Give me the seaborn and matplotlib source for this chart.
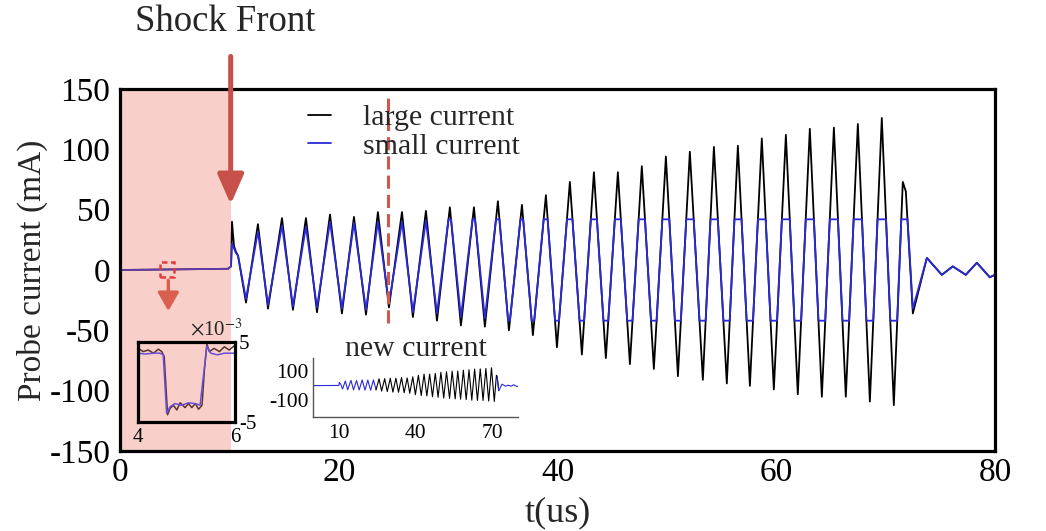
import numpy as np
import pandas as pd
import matplotlib
matplotlib.use("Agg")
import matplotlib.pyplot as plt
import seaborn as sns
from matplotlib.patches import Rectangle

# ---------------- data ----------------
# vertex times (us) of the probe-current waveform
t_us = [0.0, 9.87, 10.15, 10.24, 10.42, 10.60, 10.79, 11.52,
        12.61, 13.53, 14.81, 15.81, 17.00, 18.01, 19.20, 20.29, 21.39, 22.49,
        23.58, 24.59, 25.78, 26.78, 27.97, 28.98, 30.16, 31.17, 32.36, 33.36,
        34.55, 35.56, 36.75, 37.75, 38.94, 39.95, 41.13, 42.23, 43.33, 44.42,
        45.52, 46.62, 47.71, 48.81, 49.91, 51.01, 52.10, 53.29, 54.30, 55.48,
        56.49, 57.59, 58.68, 59.78, 60.88, 61.97, 63.07, 64.17, 65.27, 66.36,
        67.46, 68.56, 69.65, 70.75,
        71.57, 71.85, 72.49, 73.77, 75.14, 76.14, 77.33, 78.34, 79.52, 80.0]
# large current (mA) at those vertices
large_mA = [0, 1, 3, 40, 20, 15, 12, -27,
            38, -32, 43, -33, 43, -35, 46, -36, 44, -37, 48, -31, 48, -39,
            49, -42, 52, -46, 52, -47, 57, -50, 54, -54, 62, -64, 73, -70,
            81, -73, 81, -78, 86, -82, 94, -88, 98, -91, 102, -94, 103, -96,
            109, -99, 112, -103, 117, -105, 118, -105, 121, -109, 126, -112,
            73, 65, -36, 10, -4, 3, -4, 6, -6, -4]
# small current (mA) at the same vertices, before the +-42 mA saturation
small_mA = [0, 1, 3, 22, 18, 14, 12, -24,
            32, -29, 37, -30, 36, -31, 40, -32, 39, -33, 40, -28, 40, -35,
            41, -36, 52, -39, 52, -40, 57, -50, 54, -54, 62, -64, 73, -70,
            81, -73, 81, -78, 86, -82, 94, -88, 98, -91, 102, -94, 103, -96,
            109, -99, 112, -103, 117, -105, 118, -105, 121, -109, 126, -112,
            73, 65, -32, 10, -4, 3, -4, 6, -6, -4]
small_sat_mA = 42

# zoomed pre-shock signal (x1e-3 mA), t = 4..6 us
t_zoom_large = [4.00, 4.11, 4.21, 4.32, 4.42, 4.49, 4.54, 4.61, 4.66, 4.73,
                4.80, 4.87, 4.97, 5.04, 5.11, 5.18, 5.25, 5.32, 5.37, 5.42,
                5.47, 5.57, 5.68, 5.78, 5.88, 5.98]
large_zoom = [4.2, 3.8, 4.0, 3.6, 4.1, 3.8, 3.2, -4.1, -3.3, -2.9, -3.5, -2.6,
              -3.2, -2.7, -3.2, -2.7, -3.4, -2.9, 1.5, 4.75, 3.8, 4.2, 3.8,
              4.4, 4.0, 4.5]
t_zoom_small = [4.00, 4.15, 4.32, 4.45, 4.52, 4.59, 4.66, 4.76, 4.90, 5.04,
                5.18, 5.28, 5.37, 5.42, 5.50, 5.64, 5.78, 5.98]
small_zoom = [3.6, 3.5, 3.6, 3.6, 3.4, -3.9, -3.1, -2.7, -2.9, -2.6, -2.7,
              -2.9, 1.9, 4.5, 3.6, 3.4, 3.6, 3.6]

shock_t = 10.15
switch_t = 24.47
end_t = 72.49

x_ticks = [0, 20, 40, 60, 80]
y_ticks = [-150, -100, -50, 0, 50, 100, 150]


def saturate(t, v, lo, hi):
    """Polyline limited to [lo, hi], inserting the crossing vertices."""
    ot, ov = [t[0]], [min(max(v[0], lo), hi)]
    for i in range(1, len(t)):
        t0, v0, t1, v1 = t[i - 1], v[i - 1], t[i], v[i]
        cr = []
        for lev in (lo, hi):
            if (v0 - lev) * (v1 - lev) < 0:
                cr.append((t0 + (lev - v0) * (t1 - t0) / (v1 - v0), lev))
        for tc, lev in sorted(cr):
            ot.append(tc)
            ov.append(lev)
        ot.append(t1)
        ov.append(min(max(v1, lo), hi))
    return ot, ov


ts, vs = saturate(t_us, small_mA, -small_sat_mA, small_sat_mA)
df_large = pd.DataFrame({"t": t_us, "I": large_mA})
df_small = pd.DataFrame({"t": ts, "I": vs})

# ---------------- style ----------------
sns.set_theme(style="white")
plt.rcParams["font.family"] = ["Liberation Serif", "DejaVu Serif"]
plt.rcParams["mathtext.fontset"] = "stix"
plt.rcParams["axes.unicode_minus"] = False

BLUE = "#2a2ad8"
RED = "#c8504a"
W, H = 1046, 531
fig = plt.figure(figsize=(W / 100, H / 100), dpi=100)
ax = fig.add_axes([120 / W, 1 - 451 / H, 875 / W, 362 / H])

sns.lineplot(data=df_large, x="t", y="I", color="black", lw=1.3,
             label="large current", ax=ax, sort=False, estimator=None)
sns.lineplot(data=df_small, x="t", y="I", color=BLUE, lw=1.3,
             label="small current", ax=ax, sort=False, estimator=None)

ax.axvspan(0, shock_t, color="#e8604c", alpha=0.3, lw=0, zorder=2.3)

ax.set_xlim(0, 80)
ax.set_ylim(-150, 150)
ax.set_xticks(x_ticks)
ax.set_yticks(y_ticks)
ax.tick_params(direction="in", length=10, width=2, labelsize=24,
               colors="black")
ax.tick_params(axis="y", pad=7)
ax.tick_params(axis="x", pad=5)
for s in ax.spines.values():
    s.set_linewidth(2.3)
    s.set_color("black")
ax.set_xlabel("t(us)", fontsize=26)
ax.set_ylabel("Probe current (mA)", fontsize=24)
ax.xaxis.set_label_coords(0.5, -0.125)
ax.yaxis.set_label_coords(-0.082, 0.5)

leg = ax.legend(loc="upper left", bbox_to_anchor=(0.215, 0.958),
                frameon=False, fontsize=21.5, handlelength=0.75,
                handletextpad=1.1, labelspacing=0.05, borderaxespad=0,
                borderpad=0)

# dashed marker line and shock-front arrow
ax.vlines(switch_t, -44, 145, colors="#d4574c", lw=2.2,
          linestyles=[(0, (4.3, 2.0))], zorder=3)
ax.annotate("", xy=(10.12, 54.5), xytext=(10.12, 177),
            arrowprops=dict(arrowstyle="-|>,head_length=0.75,head_width=0.33",
                            color=RED, lw=3.6, mutation_scale=24,
                            shrinkA=0, shrinkB=0),
            annotation_clip=False, zorder=4)
fig.text(225 / W, 1 - 22 / H, "Shock Front", ha="center", va="center",
         fontsize=26.5)

# small dashed box and arrow toward zoom inset
ax.add_patch(Rectangle((3.66, -5.9), 1.28, 12.6, fill=False, ec="#e23b3b",
                       lw=1.8, ls=(0, (2.2, 1.4)), zorder=4))
ax.annotate("", xy=(4.42, -34), xytext=(4.42, -8.5),
            arrowprops=dict(arrowstyle="-|>,head_length=0.7,head_width=0.4",
                            color="#d9604f", lw=2.4, mutation_scale=16,
                            shrinkA=0, shrinkB=0), zorder=4)

# ---------------- inset 1: zoom of pre-shock signal ----------------
ax1 = fig.add_axes([138 / W, 1 - 422 / H, 97 / W, 80 / H])
ax1.set_facecolor("none")
sns.lineplot(x=t_zoom_large, y=large_zoom, color="#5a3530", lw=1.1, ax=ax1,
             sort=False, estimator=None)
sns.lineplot(x=t_zoom_small, y=small_zoom, color="#6a4fd6", lw=1.1, ax=ax1,
             sort=False, estimator=None)
ax1.set_xlim(4, 6)
ax1.set_ylim(-5, 5)
ax1.set_xticks([4, 6])
ax1.set_yticks([-5, 5])
ax1.yaxis.tick_right()
ax1.tick_params(length=0, labelsize=15, colors="black")
ax1.tick_params(axis="x", pad=4)
ax1.tick_params(axis="y", pad=3)
for s in ax1.spines.values():
    s.set_linewidth(2.3)
    s.set_color("black")
fig.text(216 / W, 1 - 330 / H, r"$\times$10$^{-3}$", ha="center",
         va="center", fontsize=15)

# ---------------- inset 2: new current ----------------
ax2 = fig.add_axes([313 / W, 1 - 417 / H, 205 / W, 59 / H])
ax2.set_facecolor("none")
i_sw = next(i for i, t in enumerate(t_us) if t >= switch_t)
i_end = t_us.index(end_t)
sns.lineplot(x=ts[: next(i for i, t in enumerate(ts) if t >= switch_t) + 1],
             y=vs[: next(i for i, t in enumerate(ts) if t >= switch_t) + 1],
             color=BLUE, lw=0.8, ax=ax2, sort=False, estimator=None)
sns.lineplot(x=t_us[i_sw: i_end + 1], y=large_mA[i_sw: i_end + 1],
             color="black", lw=0.8, ax=ax2, sort=False, estimator=None)
sns.lineplot(x=t_us[i_end - 1:], y=large_mA[i_end - 1:], color=BLUE,
             lw=0.8, ax=ax2, sort=False, estimator=None)
ax2.set_xlim(0, 80)
ax2.set_ylim(-222, 195)
ax2.set_xticks([10, 20, 30, 40, 50, 60, 70])
ax2.set_xticklabels(["10", "", "", "40", "", "", "70"])
ax2.set_yticks([100, -100])
ax2.tick_params(direction="in", length=3, width=0.8, labelsize=15.5,
                colors="black", pad=3)
ax2.tick_params(axis="x", pad=5)
for k in ("top", "right"):
    ax2.spines[k].set_visible(False)
for k in ("left", "bottom"):
    ax2.spines[k].set_linewidth(1.0)
    ax2.spines[k].set_color("#555555")
fig.text(416 / W, 1 - 356 / H, "new current", ha="center", va="baseline",
         fontsize=21.5)

fig.savefig("out.png", dpi=100)
